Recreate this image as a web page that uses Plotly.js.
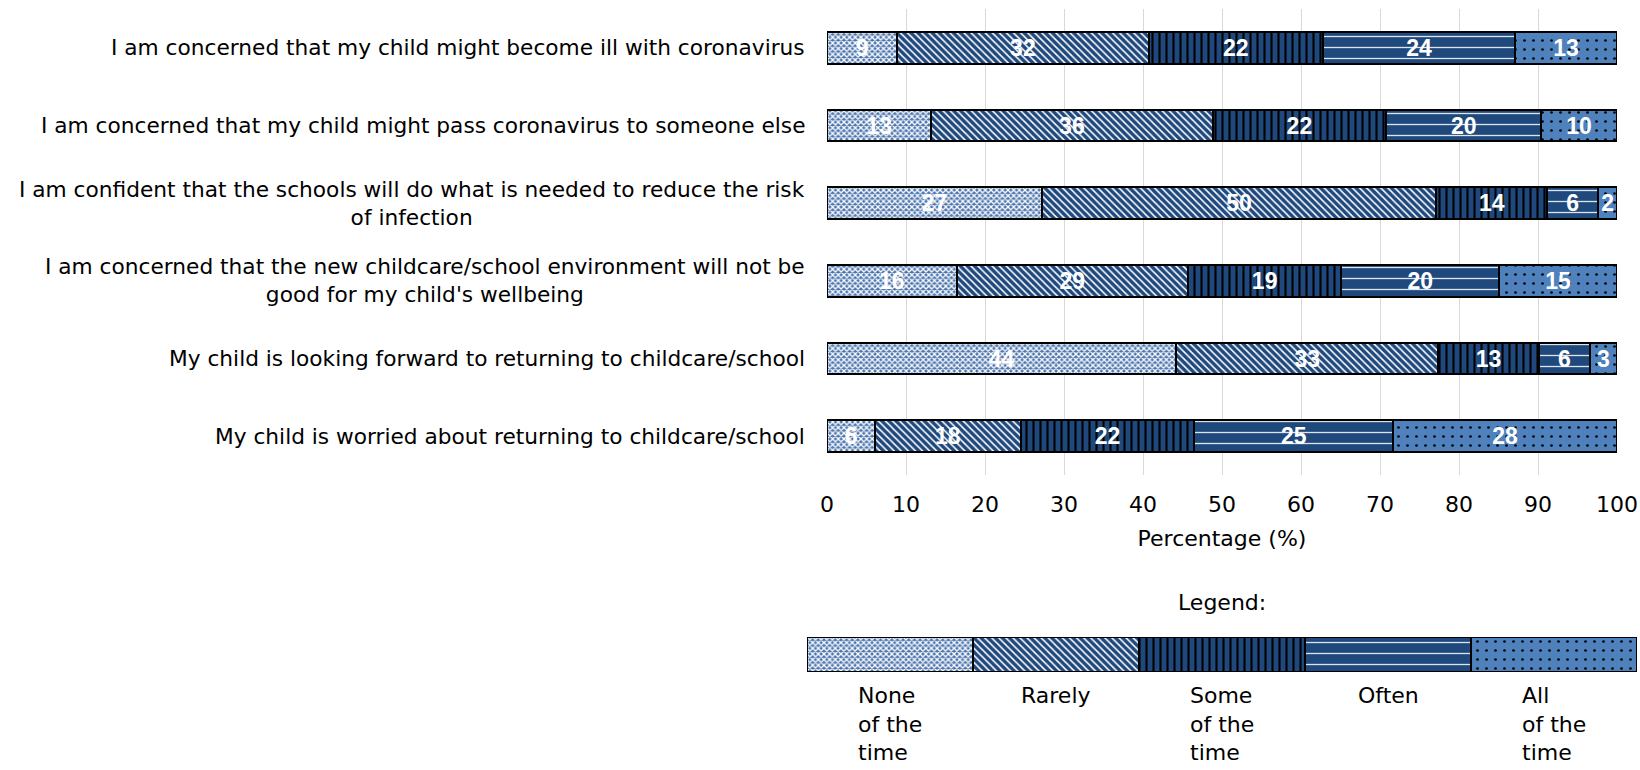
<!DOCTYPE html>
<html>
<head>
<meta charset="utf-8">
<script src="https://cdn.plot.ly/plotly-3.0.1.min.js"></script>
<style>html,body{margin:0;padding:0;background:#fff;}#chart{width:1640px;height:770px;}</style>
</head>
<body>
<div id="chart"></div>
<script>
// ---- data ----
var statements = [
  "I am concerned that my child might become ill with coronavirus",
  "I am concerned that my child might pass coronavirus to someone else",
  "I am confident that the schools will do what is needed to reduce the risk<br>of infection",
  "I am concerned that the new childcare/school environment will not be<br>good for my child's wellbeing",
  "My child is looking forward to returning to childcare/school",
  "My child is worried about returning to childcare/school"
];
var seriesNames = ["None<br>of the<br>time", "Rarely", "Some<br>of the<br>time", "Often", "All<br>of the<br>time"];
var noneOfTheTime = [8.9, 13.2, 27.2, 16.4, 44.2, 6.1];
var rarely        = [31.8, 35.6, 49.9, 29.3, 33.2, 18.4];
var someOfTheTime = [22.1, 22.0, 14.1, 19.4, 12.7, 22.0];
var often         = [24.3, 19.6, 6.4, 20.0, 6.45, 25.2];
var allOfTheTime  = [12.9, 9.6, 2.4, 14.9, 3.45, 28.3];
var legendShare   = [20, 20, 20, 20, 20];
var legendCategory = ["Legend"];
var xTickVals = [0, 10, 20, 30, 40, 50, 60, 70, 80, 90, 100];

var seriesValues = [noneOfTheTime, rarely, someOfTheTime, often, allOfTheTime];
var patterns = [
  {shape: "x",  fgcolor: "#ffffff", bgcolor: "#4a74ad", size: 4,  solidity: 0.55},
  {shape: "\\", fgcolor: "#ffffff", bgcolor: "#1f497d", size: 5,  solidity: 0.3},
  {shape: "|",  fgcolor: "#000000", bgcolor: "#1f497d", size: 7,  solidity: 0.3},
  {shape: "-",  fgcolor: "#ffffff", bgcolor: "#1f497d", size: 11, solidity: 0.12, fgopacity: 0.85},
  {shape: ".",  fgcolor: "#000000", bgcolor: "#4f81bd", size: 9,  solidity: 0.07}
];
var FONT = "DejaVu Sans, Verdana, sans-serif";
var NUMFONT = "Liberation Sans, Arial, sans-serif";

var data = [];
seriesValues.forEach(function (vals, i) {
  data.push({
    type: "bar", orientation: "h",
    y: statements, x: vals,
    width: 0.41,
    texttemplate: "%{x:.0f}",
    textposition: "inside", insidetextanchor: "middle", textangle: 0,
    constraintext: "none",
    textfont: {family: NUMFONT, size: 23, color: "#ffffff", weight: "bold"},
    marker: {color: patterns[i].bgcolor, pattern: patterns[i], line: {color: "#000000", width: 2}},
    showlegend: false, hoverinfo: "x+name", name: seriesNames[i],
    xaxis: "x", yaxis: "y"
  });
});
seriesValues.forEach(function (vals, i) {
  data.push({
    type: "bar", orientation: "h",
    y: legendCategory, x: [legendShare[i]],
    width: 1,
    marker: {color: patterns[i].bgcolor, pattern: patterns[i], line: {color: "#000000", width: 2}},
    showlegend: false, hoverinfo: "name", name: seriesNames[i],
    xaxis: "x2", yaxis: "y2"
  });
});

var annotations = statements.map(function (s) {
  return {
    xref: "x", yref: "y", x: 0, y: s, text: s,
    xanchor: "right", yanchor: "middle", align: "center", xshift: -20,
    showarrow: false, font: {family: FONT, size: 21.7, color: "#000000"}
  };
});
var cum = 0;
seriesNames.forEach(function (n, i) {
  var c = cum + legendShare[i] / 2;
  cum += legendShare[i];
  annotations.push({
    xref: "x2", yref: "y2", x: c, y: legendCategory[0], text: n,
    xanchor: "center", yanchor: "top", align: "left", yshift: -26,
    showarrow: false, font: {family: FONT, size: 22, color: "#000000"}
  });
});
annotations.push({
  xref: "x2 domain", yref: "y2 domain", x: 0.5, y: 1, text: "Legend:",
  xanchor: "center", yanchor: "bottom", yshift: 20,
  showarrow: false, font: {family: FONT, size: 22, color: "#000000"}
});

var layout = {
  width: 1640, height: 770,
  margin: {l: 0, r: 0, t: 0, b: 0},
  paper_bgcolor: "#ffffff", plot_bgcolor: "#ffffff",
  barmode: "stack",
  font: {family: FONT, size: 22, color: "#000000"},
  xaxis: {
    domain: [827 / 1640, 1617 / 1640], range: [0, 100], tickvals: xTickVals,
    showgrid: true, gridcolor: "#d9d9d9", gridwidth: 1, zeroline: false, showline: false,
    ticks: "outside", ticklen: 10, tickcolor: "rgba(0,0,0,0)",
    tickfont: {family: FONT, size: 22},
    title: {text: "Percentage (%)", font: {family: FONT, size: 22}, standoff: 14},
    fixedrange: true
  },
  yaxis: {
    domain: [1 - 475 / 770, 1 - 9 / 770], autorange: "reversed",
    showticklabels: false, showgrid: false, zeroline: false, showline: false, ticks: "",
    fixedrange: true
  },
  xaxis2: {
    domain: [807 / 1640, 1637 / 1640], range: [0, 100], anchor: "y2",
    showticklabels: false, showgrid: false, zeroline: false, showline: false, ticks: "",
    fixedrange: true
  },
  yaxis2: {
    domain: [1 - 672 / 770, 1 - 637 / 770], range: [-0.5, 0.5], anchor: "x2",
    showticklabels: false, showgrid: false, zeroline: false, showline: false, ticks: "",
    fixedrange: true
  },
  annotations: annotations
};

Plotly.newPlot("chart", data, layout, {displayModeBar: false, staticPlot: true});
</script>
</body>
</html>
